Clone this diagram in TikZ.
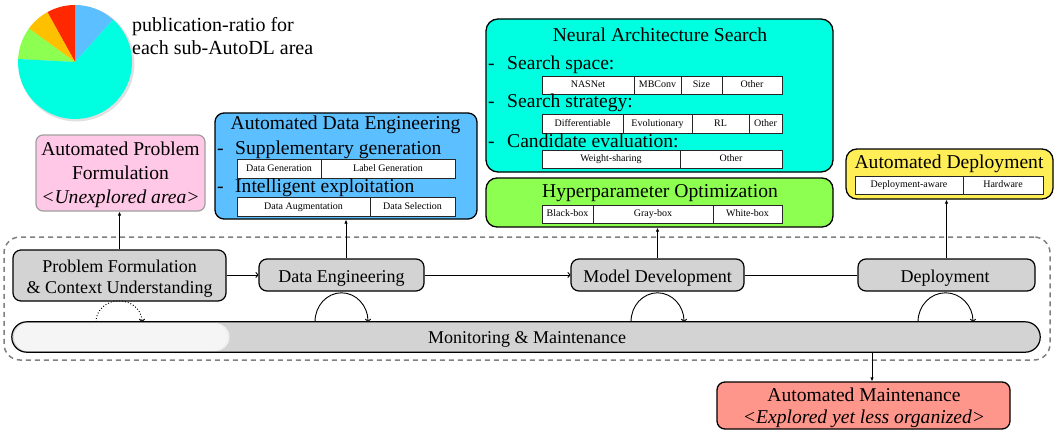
\documentclass[tikz,border=0pt]{standalone}
\usepackage{fontspec}
\setmainfont{Liberation Serif}
\usetikzlibrary{arrows.meta,calc}
\newcommand\myfs[2]{\fontsize{#1}{#2}\selectfont}
\definecolor{cblue}{RGB}{92,191,255}
\definecolor{ccyan}{RGB}{0,255,225}
\definecolor{cgreen}{RGB}{140,255,80}
\definecolor{cyellow}{RGB}{255,238,85}
\definecolor{corange}{RGB}{255,192,0}
\definecolor{cred}{RGB}{255,40,0}
\definecolor{cpink}{RGB}{255,200,230}
\definecolor{csalmon}{RGB}{255,150,140}
\definecolor{cgray}{RGB}{211,211,211}
\definecolor{cframe}{RGB}{128,128,128}
\begin{document}
\begin{tikzpicture}[x=1pt,y=-1pt,
  abox/.style={draw=black,line width=1.3pt,rounded corners=9pt,inner sep=0pt},
  pbox/.style={draw=black,line width=1.2pt,fill=cgray,rounded corners=8pt,inner sep=0pt},
  cell/.style={draw=black!85,line width=0.7pt,fill=white,inner sep=0pt,font=\myfs{10}{12},text height=7pt,text depth=2pt},
  bigt/.style={anchor=base,inner sep=0pt,font=\myfs{19.6}{24}},
  bigl/.style={anchor=base west,inner sep=0pt,font=\myfs{19.6}{24}},
  midt/.style={anchor=base,inner sep=0pt,font=\myfs{18}{21}},
  varr/.style={-{Latex[length=4pt,width=3.5pt]},line width=0.8pt},
  harr/.style={-{To[length=3pt,width=6pt]},line width=0.9pt},
  carr/.style={-{To[length=3pt,width=6pt]},line width=0.9pt},
  link/.style={line width=0.9pt}
]
\useasboundingbox (0,0) rectangle (1059,433);

% ---------- pie ----------
\coordinate (pc) at (75,62);
\coordinate (pcs) at (76.5,63.5);
\fill[black!12] (pcs) circle[radius=58pt];
\fill[cblue]   (pc) -- ++(48:57pt)  arc[start angle=48, end angle=90, radius=57pt] -- cycle;
\fill[cred]    (pc) -- ++(90:57pt)  arc[start angle=90, end angle=119, radius=57pt] -- cycle;
\fill[corange] (pc) -- ++(119:57pt) arc[start angle=119, end angle=144, radius=57pt] -- cycle;
\fill[cgreen]  (pc) -- ++(144:57pt) arc[start angle=144, end angle=177, radius=57pt] -- cycle;
\fill[ccyan]   (pc) -- ++(177:57pt) arc[start angle=177, end angle=408, radius=57pt] -- cycle;
\node[anchor=base west,inner sep=0pt,font=\myfs{20}{23}] (pt1) at (132,32) {publication-ratio for};
\node[anchor=base west,inner sep=0pt,font=\myfs{20}{23}] (pt2) at (132,55) {each sub-AutoDL area};

% ---------- dashed frame ----------
\node[draw=cframe,line width=1.5pt,dash pattern=on 5pt off 4pt,rounded corners=16pt,minimum width=1046pt,minimum height=123pt,inner sep=0pt] (frame) at (527,298.5) {};

% ---------- Automated Problem Formulation ----------
\node[draw=gray!75,line width=1.2pt,fill=cpink,rounded corners=7pt,minimum width=169pt,minimum height=76pt,inner sep=0pt] (apf) at (120.5,173) {};
\node[bigt] (apf1) at (120.5,155) {Automated Problem};
\node[bigt] (apf2) at (120.5,179) {Formulation};
\node[bigt] (apf3) at (120.5,203) {\textit{<Unexplored area>}};

% ---------- Automated Data Engineering ----------
\node[abox,fill=cblue,minimum width=262pt,minimum height=106pt] (ade) at (346,166) {};
\node[bigt] (adet) at (345.5,129) {Automated Data Engineering};
\node[bigl] (aded1) at (217,154) {-};
\node[bigl] (adel1) at (235,154) {Supplementary generation};
\node[cell,minimum width=84pt,minimum height=19pt] (adec1) at (279,168.5) {Data Generation};
\node[cell,minimum width=134pt,minimum height=19pt] (adec2) at (388,168.5) {Label Generation};
\node[bigl] (aded2) at (217,192) {-};
\node[bigl] (adel2) at (235,192) {Intelligent exploitation};
\node[cell,minimum width=133pt,minimum height=19pt] (adec3) at (303.5,206.5) {Data Augmentation};
\node[cell,minimum width=85pt,minimum height=19pt] (adec4) at (412.5,206.5) {Data Selection};

% ---------- Neural Architecture Search ----------
\node[abox,fill=ccyan,rounded corners=12pt,minimum width=347pt,minimum height=153pt] (nas) at (659.5,95.5) {};
\node[bigt] (nast) at (660,42) {Neural Architecture Search};
\node[bigl] (nasd1) at (488,70) {-};
\node[bigl] (nasl1) at (507,70) {Search space:};
\node[cell,minimum width=92pt,minimum height=18pt] (nasa1) at (588,85) {NASNet};
\node[cell,minimum width=47pt,minimum height=18pt] (nasa2) at (657.5,85) {MBConv};
\node[cell,minimum width=41pt,minimum height=18pt] (nasa3) at (701.5,85) {Size};
\node[cell,minimum width=60pt,minimum height=18pt] (nasa4) at (752,85) {Other};
\node[bigl] (nasd2) at (488,108) {-};
\node[bigl] (nasl2) at (507,108) {Search strategy:};
\node[cell,minimum width=81pt,minimum height=19pt] (nasb1) at (582.5,123.5) {Differentiable};
\node[cell,minimum width=69pt,minimum height=19pt] (nasb2) at (657.5,123.5) {Evolutionary};
\node[cell,minimum width=57pt,minimum height=19pt] (nasb3) at (720.5,123.5) {RL};
\node[cell,minimum width=33pt,minimum height=19pt] (nasb4) at (765.5,123.5) {Other};
\node[bigl] (nasd3) at (488,147) {-};
\node[bigl] (nasl3) at (507,147) {Candidate evaluation:};
\node[cell,minimum width=138pt,minimum height=18pt] (nasc1) at (611,159) {Weight-sharing};
\node[cell,minimum width=102pt,minimum height=18pt] (nasc2) at (731,159) {Other};

% ---------- Hyperparameter Optimization ----------
\node[abox,fill=cgreen,rounded corners=11pt,minimum width=347pt,minimum height=49pt] (hpo) at (659.5,202.5) {};
\node[bigt] (hpot) at (660,197) {Hyperparameter Optimization};
\node[cell,minimum width=51pt,minimum height=18pt] (hpoc1) at (567.5,214) {Black-box};
\node[cell,minimum width=120pt,minimum height=18pt] (hpoc2) at (653,214) {Gray-box};
\node[cell,minimum width=69pt,minimum height=18pt] (hpoc3) at (747.5,214) {White-box};

% ---------- Automated Deployment ----------
\node[abox,fill=cyellow,rounded corners=11pt,minimum width=207pt,minimum height=50pt] (ad) at (949.5,174) {};
\node[bigt] (adt) at (949,168) {Automated Deployment};
\node[cell,minimum width=108pt,minimum height=18pt] (adc1) at (909,185) {Deployment-aware};
\node[cell,minimum width=80pt,minimum height=18pt] (adc2) at (1003,185) {Hardware};

% ---------- Automated Maintenance ----------
\node[abox,fill=csalmon,rounded corners=8pt,minimum width=293pt,minimum height=47pt] (am) at (863.5,405.5) {};
\node[bigt] (am1) at (864,401) {Automated Maintenance};
\node[bigt] (am2) at (864,423) {\textit{<Explored yet less organized>}};

% ---------- process boxes ----------
\node[pbox,minimum width=213pt,minimum height=51pt] (pf) at (119.5,275.5) {};
\node[midt] (pf1) at (119.5,272) {Problem Formulation};
\node[midt] (pf2) at (119.5,293) {\& Context Understanding};
\node[pbox,minimum width=165pt,minimum height=32pt] (de) at (341.5,275) {};
\node[midt] (de1) at (341.5,282) {Data Engineering};
\node[pbox,minimum width=173pt,minimum height=32pt] (md) at (657.5,275) {};
\node[midt] (md1) at (657.5,282) {Model Development};
\node[pbox,minimum width=177pt,minimum height=32pt] (dep) at (946.5,275) {};
\node[midt] (dep1) at (945,282) {Deployment};

% ---------- monitoring bar ----------
\node[fill=cgray,rounded corners=15pt,minimum width=1028pt,minimum height=30pt,inner sep=0pt] (bar) at (526,337) {};
\fill[black!6,rounded corners=14pt] (14,323) rectangle (229.5,351);
\fill[black!4,rounded corners=14pt] (14,323) rectangle (227,351);
\draw[line width=1.2pt,rounded corners=15pt] (bar.north west) rectangle (bar.south east);
\node[midt] (bart) at (527,343) {Monitoring \& Maintenance};

% ---------- connectors ----------
\draw[harr] (pf.east |- de.west) -- (de.west);
\draw[harr] (de.east) -- (md.west);
\draw[link] (md.east) -- (dep.west);
\draw[varr] (pf.north) -- (pf.north |- apf.south);
\draw[varr] (de.north -| ade.south) -- (ade.south);
\draw[varr] (md.north) -- (md.north |- hpo.south);
\draw[varr] (dep.north) -- (dep.north |- ad.south);
\coordinate (mx) at (872,0);
\draw[varr] (bar.south -| mx) -- (am.north -| mx);

% self loops on the bar
\coordinate (l0) at (96,0);
\coordinate (l1) at (315,0);
\coordinate (l2) at (631,0);
\coordinate (l3) at (918,0);
\draw[carr,dotted,line width=1pt] (bar.north -| l0) arc[start angle=180,end angle=0,x radius=23pt,y radius=21pt];
\draw[carr] (bar.north -| l1) arc[start angle=180,end angle=0,x radius=26.5pt,y radius=29pt];
\draw[carr] (bar.north -| l2) arc[start angle=180,end angle=0,x radius=26.5pt,y radius=29pt];
\draw[carr] (bar.north -| l3) arc[start angle=180,end angle=0,x radius=27.5pt,y radius=29pt];
\end{tikzpicture}
\end{document}
